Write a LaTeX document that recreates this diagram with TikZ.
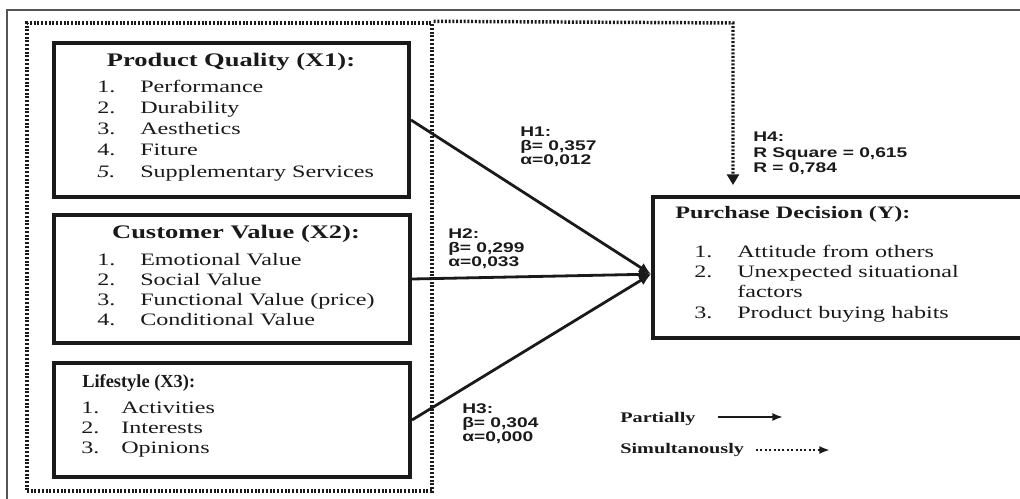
\documentclass[tikz,border=0pt]{standalone}
\usepackage{fontspec}
\setmainfont[FakeStretch=1.38]{Liberation Serif}
\newfontfamily\lblfont[FakeStretch=1.37]{Liberation Sans}
\newfontfamily\tightbold{Liberation Serif}
\usetikzlibrary{arrows.meta,fit}
\definecolor{framegray}{HTML}{555555}
\definecolor{ink}{HTML}{1A1A1A}

\begin{document}
\begin{tikzpicture}[x=0.75pt,y=-0.75pt,
  every node/.style={inner sep=0pt, text=ink},
  box/.style={draw=ink, line width=3pt, inner sep=0pt},
  group/.style={draw=ink, line width=2.6pt, dash pattern=on 1.5pt off 1.3pt, inner sep=0pt},
  simul/.style={draw=ink, line width=2.6pt, dash pattern=on 1.5pt off 1.3pt,
    -{Triangle[length=8pt,width=9pt]}},
  partial/.style={draw=ink, line width=2.1pt, -{Latex[length=9pt,width=8pt]}},
  frame/.style={draw=framegray, line width=1.1pt},
  ttl/.style={anchor=base, font=\fontsize{14.4}{16}\selectfont\bfseries},
  ttlw/.style={anchor=base west, font=\fontsize{13.1}{15}\selectfont\bfseries},
  num/.style={anchor=base west, font=\fontsize{13.1}{15}\selectfont},
  item/.style={anchor=base west, font=\fontsize{13.1}{15}\selectfont},
  hlbl/.style={anchor=base west, font=\lblfont\bfseries\fontsize{10.5}{11}\selectfont},
  legend/.style={anchor=base west, font=\fontsize{11}{13}\selectfont\bfseries}
]
\useasboundingbox (0,0) rectangle (1020,499);
\clip (0,0) rectangle (1020,499);
\fill[white] (0,0) rectangle (1020,499);

% thin outer frame
\coordinate (fb) at (7,510);
\coordinate (fc) at (7,10);
\coordinate (fr) at (1030,10);
\draw[frame] (fb) -- (fc) -- (fr);

% dotted frame round the independent variables
\node[group, fit={(27,23) (432,491)}] (grp) {};
\coordinate (h4turn) at (733,23);
\coordinate (h4end) at (733,185);
\draw[simul] (grp.north east) -- (h4turn) -- (h4end);

% variable boxes
\node[box, fit={(54,43) (409,197)}] (x1) {};
\node[box, fit={(54,215) (410,343)}] (x2) {};
\node[box, fit={(54,363) (410,477)}] (x3) {};
\node[box, fit={(653,197) (1060,338)}] (y) {};
\coordinate (hub) at ([yshift=-5pt]y.west);

% Product Quality
\node[ttl] (x1t) at (231,67) {Product Quality (X1):};
\foreach \n/\t/\yy [count=\i] in {1./Performance/93, 2./Durability/114,
    3./Aesthetics/135, 4./Fiture/156, \textit{5.}/Supplementary Services/177}{
  \node[num] (x1n\i) at (97,\yy) {\n};
  \node[item] (x1i\i) at (140,\yy) {\t};
}

% Customer Value
\node[ttl] (x2t) at (236,238) {Customer Value (X2):};
\foreach \n/\t/\yy [count=\i] in {1./Emotional Value/265, 2./Social Value/285,
    3./Functional Value (price)/305, 4./Conditional Value/325}{
  \node[num] (x2n\i) at (97,\yy) {\n};
  \node[item] (x2i\i) at (140,\yy) {\t};
}

% Lifestyle
\node[anchor=base west, font=\tightbold\fontsize{13.8}{15}\selectfont\bfseries] (x3t) at (82,387) {Lifestyle (X3):};
\foreach \n/\t/\yy [count=\i] in {1./Activities/413, 2./Interests/433, 3./Opinions/453}{
  \node[num] (x3n\i) at (81,\yy) {\n};
  \node[item] (x3i\i) at (121,\yy) {\t};
}

% Purchase Decision
\node[ttlw] (yt) at (675,218) {Purchase Decision (Y):};
\node[num] (yn1) at (694,257) {1.};
\node[item] (yi1) at (737,257) {Attitude from others};
\node[num] (yn2) at (694,277) {2.};
\node[item] (yi2) at (737,277) {Unexpected situational};
\node[item] (yi2b) at (737,297) {factors};
\node[num] (yn3) at (694,318) {3.};
\node[item] (yi3) at (737,318) {Product buying habits};

% partial paths
\draw[partial] (x1.east) -- (hub);
\draw[partial] (x2.east) -- (hub);
\draw[partial] (x3.east) -- (hub);

% hypothesis labels
\node[hlbl] (h1a) at (520,137) {H1:};
\node[hlbl] (h1b) at (520,151) {β= 0,357};
\node[hlbl] (h1c) at (520,165) {α=0,012};
\node[hlbl] (h2a) at (448,238) {H2:};
\node[hlbl] (h2b) at (448,252) {β= 0,299};
\node[hlbl] (h2c) at (448,266) {α=0,033};
\node[hlbl] (h3a) at (462,413) {H3:};
\node[hlbl] (h3b) at (462,427) {β= 0,304};
\node[hlbl] (h3c) at (462,441) {α=0,000};
\node[hlbl] (h4a) at (753,142) {H4:};
\node[hlbl] (h4b) at (753,157) {R Square = 0,615};
\node[hlbl] (h4c) at (753,172) {R = 0,784};

% legend
\node[legend] (lp) at (620,422) {Partially};
\node[legend] (ls) at (620,453) {Simultanously};
\coordinate (lpa) at (718,417);
\coordinate (lpb) at (783,417);
\coordinate (lsa) at (756,450);
\coordinate (lsb) at (830,450);
\draw[draw=ink, line width=1.3pt, -{Latex[length=8pt,width=6pt]}] (lpa) -- (lpb);
\draw[draw=ink, line width=2pt, dash pattern=on 1.5pt off 1.8pt, -{Latex[length=8pt,width=6pt]}] (lsa) -- (lsb);
\end{tikzpicture}
\end{document}
